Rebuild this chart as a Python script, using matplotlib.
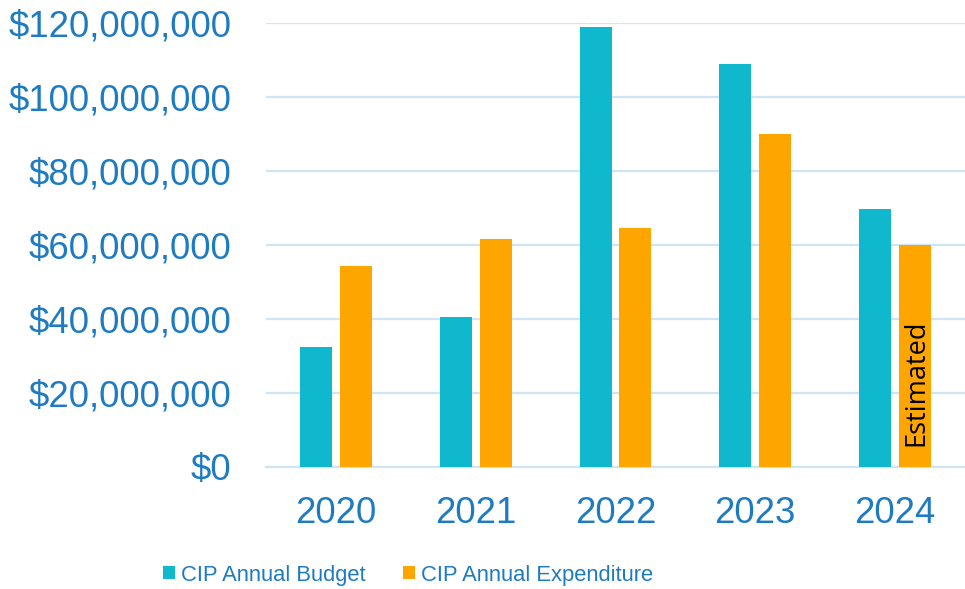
import matplotlib
matplotlib.use("Agg")
import matplotlib.pyplot as plt
import numpy as np
from matplotlib.patches import Patch

years = ["2020", "2021", "2022", "2023", "2024"]
budget = [32.3e6, 40.6e6, 118.9e6, 108.9e6, 69.8e6]
expenditure = [54.3e6, 61.5e6, 64.7e6, 90.1e6, 60.0e6]
yticks = [0, 20e6, 40e6, 60e6, 80e6, 100e6, 120e6]
ytick_labels = ["$0", "$20,000,000", "$40,000,000", "$60,000,000",
                "$80,000,000", "$100,000,000", "$120,000,000"]
series_names = ["CIP Annual Budget", "CIP Annual Expenditure"]
note = "Estimated"

teal = "#0FB8CC"
orange = "#FFA500"
text_blue = "#1F7BC1"
grid_col = "#CFE4F5"

plt.rcParams['font.family'] = ['Liberation Sans', 'DejaVu Sans']

fig = plt.figure(figsize=(9.65, 5.89), dpi=100)
ax = fig.add_axes([266/965, 1-467/589, 1-266/965, (467-23)/589])

x = np.arange(len(years))
w = 0.229
off = 0.143
ax.bar(x - off, budget, width=w, color=teal, zorder=3)
ax.bar(x + off, expenditure, width=w, color=orange, zorder=3)

ax.set_xlim(-0.5, len(years) - 0.5)
ax.set_ylim(0, 120e6)
ax.set_yticks(yticks)
ax.set_yticklabels(ytick_labels)
ax.set_xticks(x)
ax.set_xticklabels(years)
ax.tick_params(axis='y', length=0, pad=25, labelsize=26.3, labelcolor=text_blue)
ax.tick_params(axis='x', length=0, pad=21, labelsize=26.3, labelcolor=text_blue)
ax.grid(axis='y', color=grid_col, linewidth=1.6, zorder=0)
ax.set_axisbelow(True)
for s in ["top", "right", "left"]:
    ax.spines[s].set_visible(False)
ax.spines["bottom"].set_color(grid_col)
ax.spines["bottom"].set_linewidth(1.6)

# Estimated label inside last expenditure bar
ax.text(x[-1] + off + 0.01, 22.8e6, note, rotation=90, ha='center', va='center',
        fontsize=19.5, color='black', family=['Open Sans', 'DejaVu Sans'], zorder=4)

handles = [Patch(facecolor=teal), Patch(facecolor=orange)]
leg = fig.legend(handles, series_names, loc='center left',
                 bbox_to_anchor=(163/965, 1-575/589),
                 ncol=2, frameon=False, borderaxespad=0, borderpad=0,
                 prop={'family': ['Liberation Sans', 'DejaVu Sans'], 'size': 15.8},
                 handlelength=0.54, handleheight=0.54,
                 handletextpad=0.27, columnspacing=1.72)
for t in leg.get_texts():
    t.set_color(text_blue)

fig.savefig("out.png", dpi=100)
